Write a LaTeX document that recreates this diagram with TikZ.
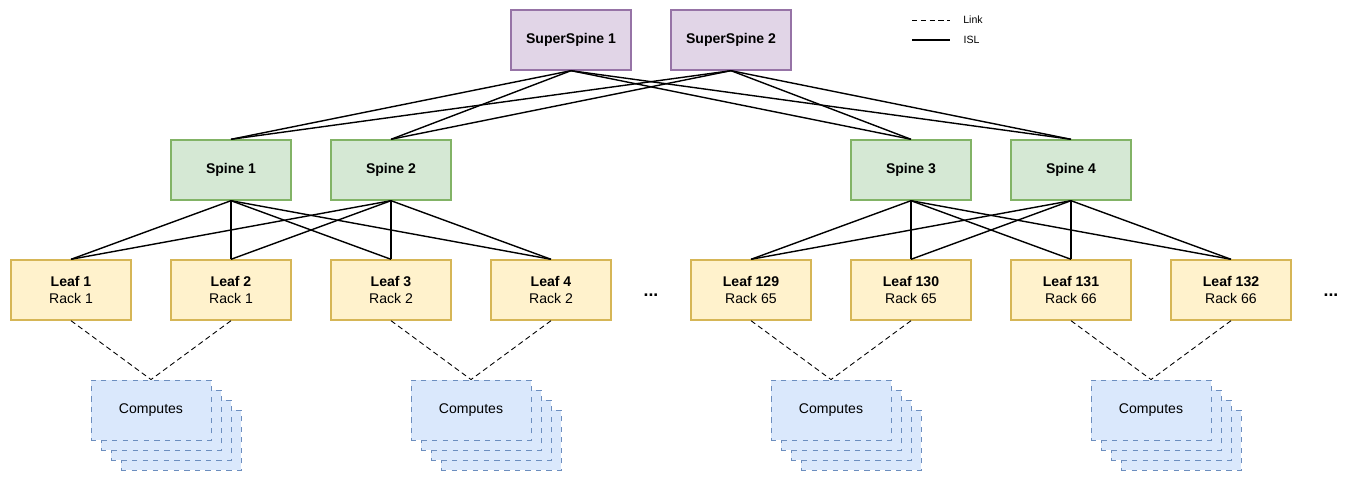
\documentclass[tikz,border=0pt]{standalone}
\usepackage{fontspec}
\setmainfont{Liberation Sans}
\usepackage{tikz}
\usetikzlibrary{positioning}
\definecolor{purpfill}{HTML}{E1D5E7}\definecolor{purpline}{HTML}{9673A6}
\definecolor{grnfill}{HTML}{D5E8D4}\definecolor{grnline}{HTML}{82B366}
\definecolor{ylwfill}{HTML}{FFF2CC}\definecolor{ylwline}{HTML}{D6B656}
\definecolor{blufill}{HTML}{DAE8FC}\definecolor{bluline}{HTML}{6C8EBF}
\tikzset{
  boxnode/.style={draw, line width=0.8pt, minimum width=2.4cm, minimum height=1.2cm, align=center, font=\fontsize{8}{10}\selectfont},
  superbox/.style={boxnode, fill=purpfill, draw=purpline, font=\fontsize{8}{10}\selectfont\bfseries},
  spinebox/.style={boxnode, fill=grnfill, draw=grnline, font=\fontsize{8}{10}\selectfont\bfseries},
  leafbox/.style={boxnode, fill=ylwfill, draw=ylwline},
  compbox/.style={boxnode, fill=blufill, draw=bluline, dashed, line width=0.5pt},
  isl/.style={line width=0.8pt},
  link/.style={densely dashed, line width=0.5pt}
}
\begin{document}
\begin{tikzpicture}[x=0.02cm,y=-0.02cm]
\useasboundingbox (0,0) rectangle (1371,482);
% Super spines
\node[superbox] (ss1) at (571,40) {SuperSpine 1};
\node[superbox] (ss2) at (731,40) {SuperSpine 2};
% Spines
\node[spinebox] (sp1) at (231,170) {Spine 1};
\node[spinebox] (sp2) at (391,170) {Spine 2};
\node[spinebox] (sp3) at (911,170) {Spine 3};
\node[spinebox] (sp4) at (1071,170) {Spine 4};
% Leaves
\foreach \n/\x/\num/\rack in {1/71/1/1, 2/231/2/1, 3/391/3/2, 4/551/4/2,
    5/751/129/65, 6/911/130/65, 7/1071/131/66, 8/1231/132/66}
  \node[leafbox] (lf\n) at (\x,290) {\textbf{Leaf \num}\\Rack \rack};
\node (dots1) at (651,295) {\bfseries ...};
\node (dots2) at (1331,295) {\bfseries ...};
% Computes
\foreach \c/\x in {1/151, 2/471, 3/831, 4/1151} {
  \foreach \k in {30,20,10}
    \node[compbox] at (\x+\k,410+\k) {};
  \node[compbox] (cp\c) at (\x,410) {Computes};
}
% ISL edges
\foreach \s in {ss1,ss2}
  \foreach \t in {sp1,sp2,sp3,sp4}
    \draw[isl] (\s.south) -- (\t.north);
\foreach \s in {sp1,sp2}
  \foreach \t in {lf1,lf2,lf3,lf4}
    \draw[isl] (\s.south) -- (\t.north);
\foreach \s in {sp3,sp4}
  \foreach \t in {lf5,lf6,lf7,lf8}
    \draw[isl] (\s.south) -- (\t.north);
% Links
\foreach \a/\b/\c in {lf1/lf2/cp1, lf3/lf4/cp2, lf5/lf6/cp3, lf7/lf8/cp4} {
  \draw[link] (\a.south) -- (\c.north);
  \draw[link] (\b.south) -- (\c.north);
}
% Legend
\coordinate (lg1a) at (912,20); \coordinate (lg1b) at (950,20);
\coordinate (lg2a) at (912,40); \coordinate (lg2b) at (950,40);
\draw[link] (lg1a) -- (lg1b) node[right=4pt, font=\fontsize{6}{7}\selectfont] (lgl) {Link};
\draw[isl] (lg2a) -- (lg2b) node[right=4pt, font=\fontsize{6}{7}\selectfont] (lgi) {ISL};
\end{tikzpicture}
\end{document}
